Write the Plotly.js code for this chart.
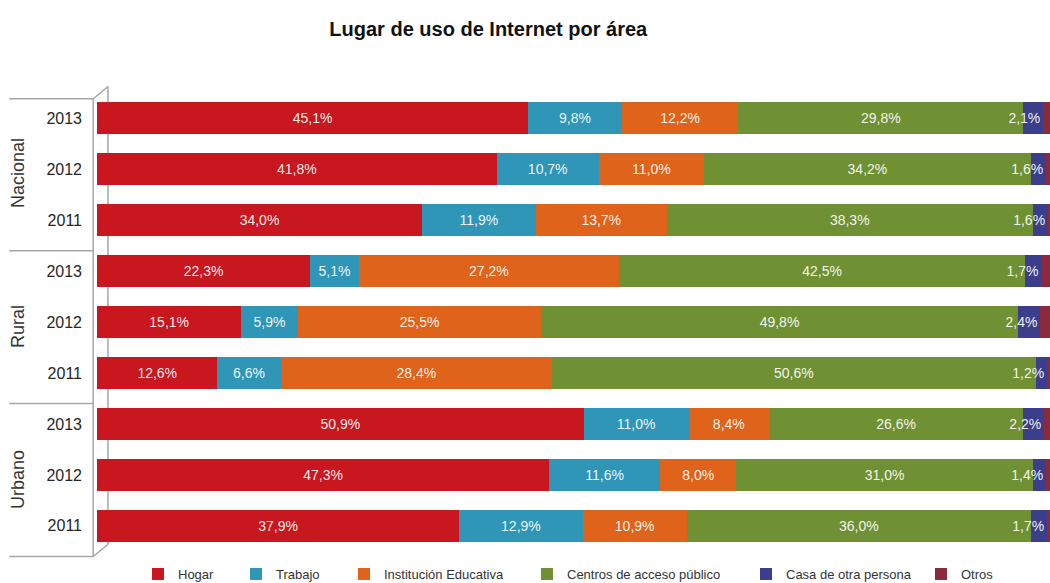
<!DOCTYPE html>
<html>
<head>
<meta charset="utf-8">
<script src="https://cdn.plot.ly/plotly-3.0.1.min.js"></script>
<style>html,body{margin:0;padding:0;background:#fff;}#chart{width:1050px;height:583px;}</style>
</head>
<body>
<div id="chart"></div>
<script>
// ---- data ----
const groups = ['Nacional', 'Rural', 'Urbano'];
const years = ['2013', '2012', '2011'];
const seriesNames = ['Hogar', 'Trabajo', 'Institución Educativa', 'Centros de acceso público', 'Casa de otra persona', 'Otros'];
// values in row order: Nacional 2013, 2012, 2011, Rural 2013, 2012, 2011, Urbano 2013, 2012, 2011
const hogar       = [45.1, 41.8, 34.0, 22.3, 15.1, 12.6, 50.9, 47.3, 37.9];
const trabajo     = [9.8, 10.7, 11.9, 5.1, 5.9, 6.6, 11.0, 11.6, 12.9];
const institucion = [12.2, 11.0, 13.7, 27.2, 25.5, 28.4, 8.4, 8.0, 10.9];
const centros     = [29.8, 34.2, 38.3, 42.5, 49.8, 50.6, 26.6, 31.0, 36.0];
const casa        = [2.1, 1.6, 1.6, 1.7, 2.4, 1.2, 2.2, 1.4, 1.7];
const otros       = [1.0, 0.7, 0.5, 1.2, 1.3, 0.6, 0.9, 0.7, 0.6];
const seriesValues = [hogar, trabajo, institucion, centros, casa, otros];
const showLabels = [true, true, true, true, true, false];

// ---- styles ----
const colors = ['#c8171f', '#2f96b8', '#e0631b', '#6f9133', '#3b3e8a', '#8a2a3c'];
const legendX = [138, 236, 344, 527, 746, 921];
const REG = '"Liberation Sans", Arial, sans-serif';

const rows = [];
groups.forEach((g, gi) => years.forEach((y, yi) => rows.push(gi * years.length + yi)));
const tickText = [];
groups.forEach(() => years.forEach(y => tickText.push(y)));

const fmt = v => v.toFixed(1).replace('.', ',') + '%';

const traces = seriesNames.map((name, i) => ({
  type: 'bar',
  orientation: 'h',
  name: name,
  x: seriesValues[i],
  y: rows,
  text: showLabels[i] ? seriesValues[i].map(fmt) : seriesValues[i].map(() => ''),
  textposition: 'inside',
  textangle: 0,
  insidetextanchor: i === 4 ? 'end' : 'middle',
  constraintext: 'none',
  cliponaxis: false,
  textfont: {family: REG, size: 14, color: 'rgba(255,255,255,0.93)'},
  marker: {color: colors[i], line: {width: 0}},
  hoverinfo: 'name+x',
  legend: i === 0 ? 'legend' : 'legend' + (i + 1)
}));

const shapes = [];
const lineStyle = {color: '#a6a6a6', width: 1.5};
// group dividers in the left label area
[-0.38, 2.6, 5.6, 8.6].forEach(yv => shapes.push({type: 'line', xref: 'paper', yref: 'y', x0: -0.092, x1: -0.004, y0: yv, y1: yv, line: lineStyle, layer: 'below'}));
// 3D wall lines
shapes.push({type: 'line', xref: 'paper', yref: 'y', x0: -0.004, x1: -0.004, y0: -0.38, y1: 8.6, line: lineStyle, layer: 'below'});
shapes.push({type: 'line', xref: 'paper', yref: 'y', x0: 0.0115, x1: 0.0115, y0: -0.62, y1: 8.36, line: lineStyle, layer: 'below'});
shapes.push({type: 'line', xref: 'paper', yref: 'y', x0: -0.004, x1: 0.0115, y0: -0.38, y1: -0.62, line: lineStyle, layer: 'below'});
shapes.push({type: 'line', xref: 'paper', yref: 'y', x0: -0.004, x1: 0.0115, y0: 8.6, y1: 8.36, line: lineStyle, layer: 'below'});

const annotations = groups.map((g, gi) => ({
  text: g, xref: 'paper', yref: 'y', x: -0.083, y: gi * years.length + 1.08,
  showarrow: false, textangle: -90, xanchor: 'center', yanchor: 'middle',
  font: {family: REG, size: 18, color: '#333333'}
}));

const layout = {
  width: 1050, height: 583,
  margin: {l: 97, r: 0, t: 85, b: 11},
  paper_bgcolor: '#ffffff', plot_bgcolor: '#ffffff',
  barmode: 'stack',
  bargap: 0.36,
  title: {
    text: 'Lugar de uso de Internet por área',
    x: 0.465, xref: 'container', xanchor: 'center',
    y: 0.95, yref: 'container', yanchor: 'middle',
    font: {family: REG, size: 20, color: '#111111', weight: 'bold'}
  },
  xaxis: {range: [0, 99.7], visible: false, fixedrange: true},
  yaxis: {
    range: [8.65, -0.65], tickvals: rows, ticktext: tickText,
    showgrid: false, zeroline: false, showline: false, ticks: '',
    ticklabelstandoff: 14,
    tickfont: {family: REG, size: 16, color: '#262626'}, fixedrange: true
  },
  shapes: shapes,
  annotations: annotations,
  showlegend: true
};
seriesNames.forEach((n, i) => {
  const key = i === 0 ? 'legend' : 'legend' + (i + 1);
  layout[key] = {
    orientation: 'h', xref: 'container', yref: 'container',
    x: legendX[i] / 1050, xanchor: 'left', y: 0.0154, yanchor: 'middle',
    bgcolor: 'rgba(0,0,0,0)', borderwidth: 0,
    font: {family: REG, size: 13, color: '#333333'}
  };
});

Plotly.newPlot('chart', traces, layout, {displayModeBar: false, staticPlot: true});
</script>
</body>
</html>
